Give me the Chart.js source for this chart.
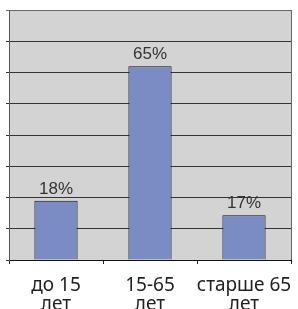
<!DOCTYPE html>
<html><head><meta charset="utf-8">
<script src="https://cdn.jsdelivr.net/npm/chart.js@4"></script>
<style>html,body{margin:0;padding:0;background:#fff}#c{display:block}</style>
</head><body>
<canvas id="c" width="298" height="309"></canvas>
<script>
const categories = [['до 15','лет'],['15-65','лет'],['старше 65','лет']];
const values = [19, 62, 14.3];
const valueLabels = ['18%','65%','17%'];
const yMin = 0, yMax = 80, yStep = 10;

const bgPlugin = {
  id: 'bg',
  beforeDraw(chart) {
    const {ctx, chartArea: a} = chart;
    ctx.save();
    ctx.fillStyle = '#d3d3d3';
    ctx.fillRect(a.left, a.top, a.right - a.left, a.bottom - a.top);
    ctx.restore();
  },
  afterDraw(chart) {
    const {ctx, chartArea: a} = chart;
    ctx.save();
    ctx.strokeStyle = '#666';
    ctx.lineWidth = 1;
    ctx.beginPath();
    ctx.moveTo(Math.round(a.right) + 0.5, a.top);
    ctx.lineTo(Math.round(a.right) + 0.5, a.bottom);
    ctx.stroke();
    ctx.restore();
  },
  afterDatasetsDraw(chart) {
    const {ctx} = chart;
    const meta = chart.getDatasetMeta(0);
    ctx.save();
    ctx.font = '17px "Liberation Sans", Arial, sans-serif';
    ctx.fillStyle = '#333';
    ctx.textAlign = 'center';
    ctx.textBaseline = 'alphabetic';
    meta.data.forEach((bar, i) => {
      ctx.fillText(valueLabels[i], bar.x, bar.y - 7);
    });
    ctx.restore();
  }
};

new Chart(document.getElementById('c'), {
  type: 'bar',
  data: {
    labels: categories,
    datasets: [{
      data: values,
      backgroundColor: '#7b8cc4',
      borderColor: '#111',
      borderWidth: 1,
      barPercentage: 0.46,
      categoryPercentage: 1
    }]
  },
  options: {
    responsive: false,
    animation: false,
    layout: {padding: {left: 6, right: 7, top: 10, bottom: -17}},
    plugins: {legend: {display: false}, tooltip: {enabled: false}},
    scales: {
      x: {
        afterFit(scale) { scale.paddingLeft = 0; scale.paddingRight = 0; },
        grid: {display: true, drawOnChartArea: false, offset: true, tickLength: 4, color: '#222'},
        border: {color: '#111', width: 1},
        ticks: {color: '#222', padding: 12, maxRotation: 0, minRotation: 0, autoSkip: false,
                font: {family: '"Noto Sans", sans-serif', size: 19, lineHeight: 1.0}}
      },
      y: {
        min: yMin, max: yMax,
        ticks: {display: false, stepSize: yStep},
        grid: {color: (c) => c.tick && c.tick.value === yMax ? '#666' : '#333', tickLength: 3, lineWidth: 1},
        border: {color: '#555', width: 1}
      }
    }
  },
  plugins: [bgPlugin]
});
</script>
</body></html>
